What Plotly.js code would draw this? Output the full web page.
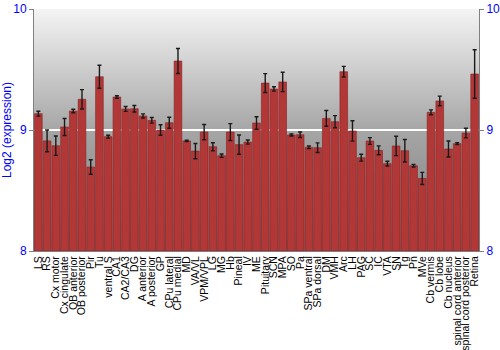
<!DOCTYPE html>
<html>
<head>
<meta charset="utf-8">
<script src="https://cdn.plot.ly/plotly-3.0.1.min.js"></script>
<style>html,body{margin:0;padding:0;background:#fff;}#chart{width:500px;height:350px;}</style>
</head>
<body>
<div id="chart"></div>
<script>
const regions = ["LS","RS","Cx motor","Cx cingulate","OB anterior","OB posterior","Pir","Tu","ventral S","CA1","CA2/CA3","DG","A anterior","A posterior","GP","CPu lateral","CPu medial","MD","VA/VL","VPM/VPL","LG","MG","Hb","Pineal","IV","ME","Pituitary","SCN","MPA","SO","Pa","SPa ventral","SPa dorsal","DM","VMH","Arc","LH","PAG","SC","IC","VTA","SN","Tg","Pn","MVe","Cb vermis","Cb lobe","Cb nucleus","spinal cord anterior","spinal cord posterior","Retina"];
const expression = [9.135,8.91,8.87,9.025,9.157,9.254,8.694,9.44,8.945,9.273,9.174,9.176,9.116,9.08,9.0,9.06,9.57,8.91,8.826,8.983,8.862,8.788,8.983,8.879,8.90,9.058,9.388,9.339,9.397,8.959,8.961,8.857,8.854,9.096,9.069,9.482,8.992,8.771,8.909,8.832,8.722,8.868,8.829,8.705,8.60,9.146,9.24,8.843,8.887,8.975,9.463];
const stderr = [0.02,0.09,0.08,0.07,0.015,0.08,0.06,0.095,0.012,0.01,0.02,0.027,0.017,0.023,0.044,0.045,0.103,0.005,0.063,0.063,0.033,0.014,0.07,0.08,0.017,0.052,0.078,0.018,0.08,0.008,0.023,0.011,0.04,0.065,0.05,0.044,0.084,0.028,0.028,0.037,0.02,0.08,0.093,0.011,0.05,0.02,0.04,0.066,0.008,0.04,0.2];
const yTicks = [8,9,10];

const grad = 'data:image/svg+xml;utf8,' + encodeURIComponent(
 '<svg xmlns="http://www.w3.org/2000/svg" width="100" height="100" preserveAspectRatio="none"><defs><linearGradient id="g" x1="0" y1="0" x2="0" y2="1"><stop offset="0" stop-color="#f4f4f4"/><stop offset="0.5" stop-color="#a6a6a6"/><stop offset="1" stop-color="#7a7a7a"/></linearGradient></defs><rect width="100" height="100" fill="url(#g)"/></svg>');

const traces = [
 {type:'bar', x:regions, y:expression.map(v=>v-8), base:8,
  marker:{color:'#b23838', line:{color:'#8a2020', width:0.6}},
  error_y:{type:'data', array:stderr, visible:true, color:'#1a1a1a', thickness:1.4, width:2},
  hoverinfo:'x+y'},
 {type:'scatter', mode:'markers', x:regions, y:expression, yaxis:'y2', marker:{opacity:0}, hoverinfo:'skip', showlegend:false}
];

const layout = {
 width:500, height:350,
 margin:{l:34, r:21, t:9, b:99, pad:0, autoexpand:false},
 paper_bgcolor:'#ffffff', plot_bgcolor:'rgba(0,0,0,0)',
 showlegend:false, bargap:0.12,
 font:{family:'Liberation Sans, Arial, sans-serif', color:'#000'},
 images:[{source:grad, xref:'paper', yref:'paper', x:0, y:1, sizex:1, sizey:1, sizing:'stretch', layer:'below', xanchor:'left', yanchor:'top'}],
 xaxis:{type:'category', range:[-0.5, regions.length-0.5], tickmode:'array', tickvals:regions, ticktext:regions, tickangle:-90, tickfont:{size:10.5, color:'#000'}, showline:true, linecolor:'#808080', mirror:false, ticks:'', showgrid:false, automargin:false},
 yaxis:{range:[8,10], tickvals:yTicks, ticktext:yTicks.map(String), tickfont:{size:12, color:'#0000ff'}, showline:true, linecolor:'#808080', mirror:true, ticks:'outside', ticklen:4, tickcolor:'#808080', showgrid:true, gridcolor:'#ffffff', gridwidth:1.5, zeroline:false,
   title:{text:'Log2 (expression)', font:{size:12, color:'#0000ff'}}, automargin:false},
 yaxis2:{range:[8,10], overlaying:'y', side:'right', tickvals:yTicks, ticktext:yTicks.map(String), tickfont:{size:12, color:'#0000ff'}, showline:true, linecolor:'#808080', ticks:'outside', ticklen:4, tickcolor:'#808080', showgrid:false, zeroline:false, automargin:false}
};

Plotly.newPlot('chart', traces, layout, {staticPlot:true, displayModeBar:false});
</script>
</body>
</html>
